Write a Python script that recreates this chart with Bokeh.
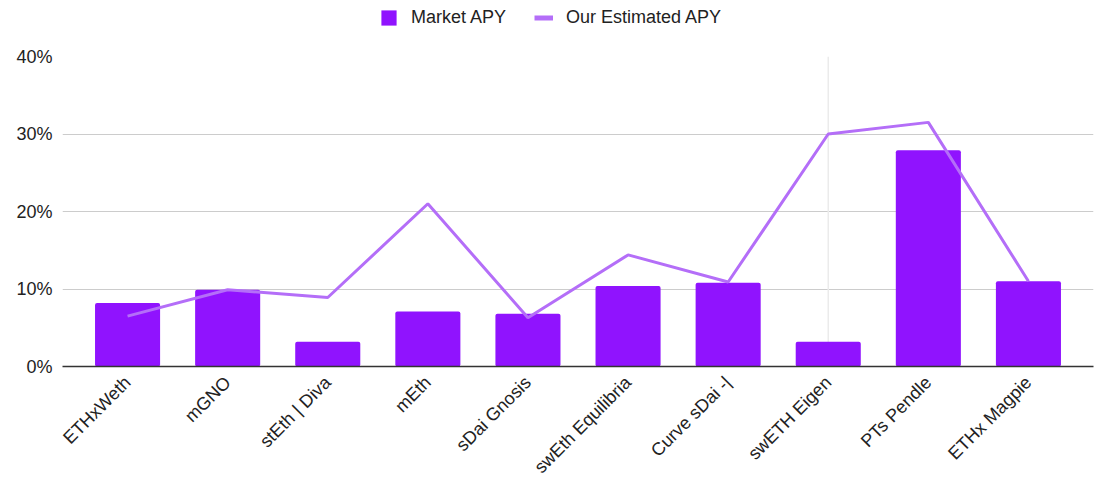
from bokeh.plotting import figure
from bokeh.layouts import column
from bokeh.models import FactorRange, Range1d, NumeralTickFormatter, Legend, LegendItem, FixedTicker
from bokeh.embed import file_html
from bokeh.resources import INLINE
from math import pi

categories = ["ETHxWeth", "mGNO", "stEth | Diva", "mEth", "sDai Gnosis",
              "swEth Equilibria", "Curve sDai -|", "swETH Eigen", "PTs Pendle", "ETHx Magpie"]
market_apy = [0.082, 0.099, 0.032, 0.071, 0.068, 0.104, 0.108, 0.032, 0.279, 0.110]
estimated_apy = [0.065, 0.099, 0.089, 0.210, 0.063, 0.144, 0.109, 0.300, 0.315, 0.110]
y_ticks = [0, 0.1, 0.2, 0.3, 0.4]
highlight = ["swETH Eigen"]
series_names = ["Market APY", "Our Estimated APY"]

FONT = "Liberation Sans"
BAR = "#9013fe"
LINE = "#b46ef8"
W = 1094

# ---- legend strip (series drawn out of view, only their legend swatches show) ----
lg = figure(x_range=FactorRange(*categories), y_range=Range1d(10, 11), width=W, height=46,
            output_backend="svg", toolbar_location=None,
            x_axis_location=None, y_axis_location=None,
            min_border_left=0, min_border_right=0, min_border_top=0, min_border_bottom=0)
lg.grid.visible = False
lg.outline_line_color = None
lb = lg.vbar(x=categories, top=market_apy, width=0.65, fill_color=BAR, line_color=None,
             border_radius=2)
ll = lg.line(x=categories, y=estimated_apy, line_color=LINE, line_width=5)
legend = Legend(items=[LegendItem(label=series_names[0], renderers=[lb]),
                       LegendItem(label=series_names[1], renderers=[ll])],
                orientation="horizontal", location=(317, 18),
                label_text_font=FONT, label_text_font_size="18px", label_text_color="#222222",
                glyph_width=19, glyph_height=19, label_standoff=13, spacing=28,
                padding=6, margin=0, border_line_color=None, background_fill_alpha=0)
lg.add_layout(legend)

# ---- main chart ----
p = figure(x_range=FactorRange(*categories, range_padding=0.15, range_padding_units="absolute"),
           y_range=Range1d(0, 0.4),
           width=W, height=441, output_backend="svg", toolbar_location=None,
           min_border_left=62, min_border_right=1, min_border_bottom=120, min_border_top=10)

p.outline_line_color = None
p.background_fill_color = "white"
p.border_fill_color = "white"

# hover guideline
p.segment(x0=highlight, y0=[0], x1=highlight, y1=[0.4], line_color="#ebebeb", line_width=1.5)

p.vbar(x=categories, top=market_apy, width=0.65, fill_color=BAR, line_color=None,
       border_radius=2)
p.line(x=categories, y=estimated_apy, line_color=LINE, line_width=3)

p.yaxis.ticker = FixedTicker(ticks=y_ticks)
p.yaxis.formatter = NumeralTickFormatter(format="0%")
p.yaxis.axis_line_color = None
p.yaxis.major_tick_line_color = None
p.yaxis.minor_tick_line_color = None
p.yaxis.major_label_text_font = FONT
p.yaxis.major_label_text_font_size = "18px"
p.yaxis.major_label_text_color = "#222222"
p.yaxis.major_label_standoff = 4

p.xaxis.axis_line_color = "#333333"
p.xaxis.axis_line_width = 1.5
p.xaxis.major_tick_line_color = None
p.xaxis.minor_tick_line_color = None
p.xaxis.major_label_orientation = pi / 4
p.xaxis.major_label_text_font = FONT
p.xaxis.major_label_text_font_size = "18px"
p.xaxis.major_label_text_color = "#222222"
p.xaxis.major_label_standoff = 7

p.xgrid.grid_line_color = None
p.ygrid.grid_line_color = "#cccccc"
p.ygrid.grid_line_width = 1

layout = column(lg, p, spacing=0)
open("out.html", "w").write(file_html(layout, INLINE))
